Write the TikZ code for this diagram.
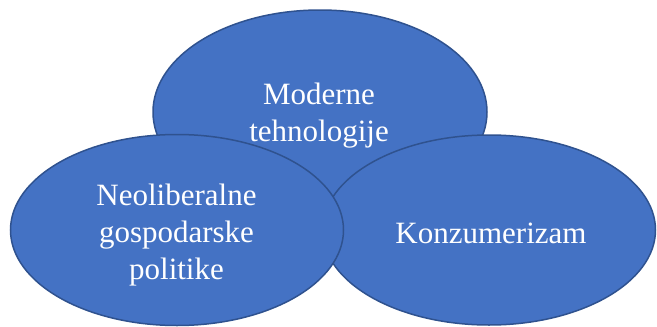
\documentclass[tikz,border=0pt]{standalone}
\usepackage{fontspec}
\setmainfont{Liberation Serif}
\usetikzlibrary{shapes.geometric}
\definecolor{ellfill}{HTML}{4472C4}
\definecolor{elldraw}{HTML}{2F528F}
\tikzset{
  ell/.style={ellipse, fill=ellfill, draw=elldraw, line width=1.5pt, inner sep=0pt},
  txt/.style={text=white, align=center, inner sep=0pt, font=\fontsize{31}{37}\selectfont}
}
\begin{document}
\begin{tikzpicture}[x=1pt,y=-1pt]
\useasboundingbox (0,0) rectangle (657,327);
\node[ell, minimum width=334pt, minimum height=204pt] (top) at (320,112) {};
\node[ell, minimum width=333pt, minimum height=190pt] (right) at (489,230) {};
\node[ell, minimum width=333pt, minimum height=191pt] (left) at (177,230) {};
\node[txt] (ttop) at (319,116) {Moderne\\tehnologije};
\node[txt] (tleft) at (176.5,235) {Neoliberalne\\gospodarske\\politike};
\node[txt] (tright) at (491,233) {Konzumerizam};
\end{tikzpicture}
\end{document}
